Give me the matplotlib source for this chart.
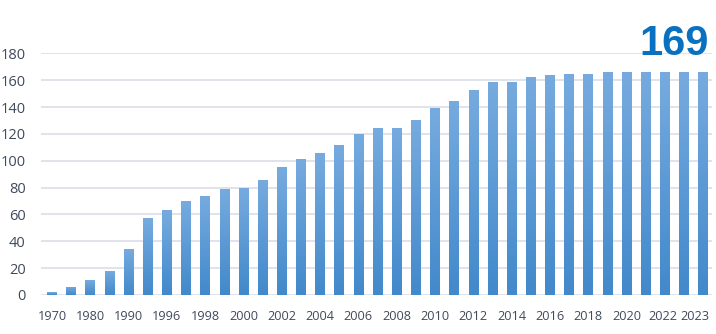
import numpy as np
import matplotlib.pyplot as plt
from matplotlib.colors import LinearSegmentedColormap
from matplotlib.transforms import ScaledTranslation

# DATOS
anios = ["1970", "1975", "1980", "1985", "1990", "1995", "1996", "1997",
         "1998", "1999", "2000", "2001", "2002", "2003", "2004", "2005",
         "2006", "2007", "2008", "2009", "2010", "2011", "2012", "2013",
         "2014", "2015", "2016", "2017", "2018", "2019", "2020", "2021",
         "2022", "2022b", "2023"]
valores = [2, 6, 11, 18, 34, 57, 63, 70,
           74, 79, 80, 86, 95, 101, 106, 112,
           120, 124, 124.5, 130, 139, 144.5, 153, 159,
           159, 162, 164, 164.5, 164.5, 166, 166, 166,
           166, 166, 166]
etiquetas_x = ["1970", "1980", "1990", "1996", "1998", "2000", "2002", "2004",
               "2006", "2008", "2010", "2012", "2014", "2016", "2018", "2020",
               "2022", "2023"]
total = "169"

color_texto = "#404a5c"
color_grid = "#dadee7"
degradado = LinearSegmentedColormap.from_list("azul", ["#4289cb", "#77abdf"])

fig = plt.figure(figsize=(7.16, 3.34), dpi=100)
ax = fig.add_axes([0.0573, 0.1168, 0.9371, 0.7236])

x = np.arange(len(valores))
barras = ax.bar(x, valores, width=0.5, color="none", edgecolor="none", zorder=3)

# degradado vertical en cada barra
grad = np.linspace(0, 1, 256).reshape(-1, 1)
for b in barras:
    x0 = b.get_x()
    h = b.get_height()
    im = ax.imshow(grad, extent=[x0, x0 + b.get_width(), 0, h], origin="lower",
                   aspect="auto", cmap=degradado, zorder=3)
    im.set_clip_path(b)

ax.set_xlim(-0.57, 34.46)
ax.set_ylim(0, 180)
ax.set_yticks(np.arange(0, 181, 20))
ax.yaxis.grid(True, color=color_grid, linewidth=1.2, zorder=0)
ax.set_axisbelow(True)

pos_ticks = list(range(0, 34, 2)) + [34]
ax.set_xticks(pos_ticks)
ax.set_xticklabels(etiquetas_x)

for s in ax.spines.values():
    s.set_visible(False)

ax.tick_params(axis="both", length=0, colors=color_texto)
ax.tick_params(axis="x", pad=11, labelsize=9.2)
ax.tick_params(axis="y", pad=11, labelsize=10.5)
for t in ax.get_xticklabels() + ax.get_yticklabels():
    t.set_fontfamily("Open Sans")

# las dos ultimas etiquetas se separan un poco
penultima = ax.get_xticklabels()[-2]
penultima.set_transform(penultima.get_transform() + ScaledTranslation(-1.5/100, 0, fig.dpi_scale_trans))
ultima = ax.get_xticklabels()[-1]
ultima.set_transform(ultima.get_transform() + ScaledTranslation(-8/100, 0, fig.dpi_scale_trans))

fig.text(709/716, 1 - 55/334, total, ha="right", va="baseline",
         fontsize=30, fontweight="bold", color="#0a70c0",
         fontfamily="Liberation Sans")

fig.savefig("out.png", dpi=100)
